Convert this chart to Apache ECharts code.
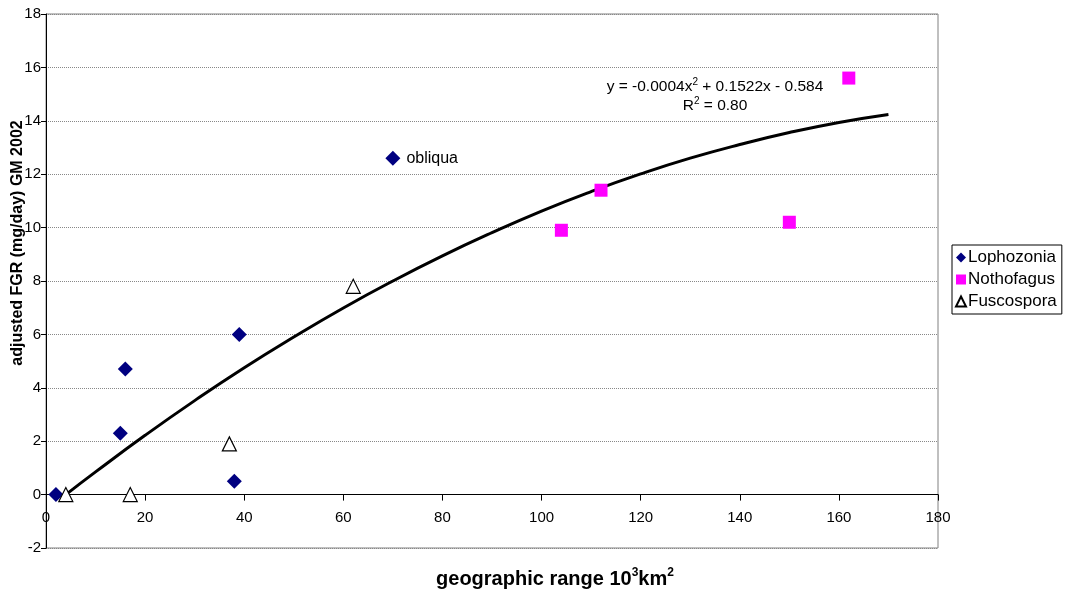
<!DOCTYPE html>
<html>
<head>
<meta charset="utf-8">
<script src="https://cdn.jsdelivr.net/npm/echarts@6/dist/echarts.min.js"></script>
<style>
html,body{margin:0;padding:0;background:#fff;}
#c{width:1074px;height:597px;}
</style>
</head>
<body>
<div id="c"></div>
<script>
// Data
const lophozonia = [[2, 0], [15, 2.3], [16, 4.7], [38, 0.5], [39, 6.0], [70, 12.6]];
const lophozoniaNames = ['', '', '', '', '', 'obliqua'];
const nothofagus = [[104, 9.9], [112, 11.4], [150, 10.2], [162, 15.6]];
const fuscospora = [[4, 0], [17, 0], [37, 1.9], [62, 7.8]];
// Trend curve, points
const trendX = [4, 10, 20, 30, 40, 50, 60, 70, 80, 90, 100, 110, 120, 130, 140, 150, 160, 170];
const trendY = [0.00, 0.85, 2.22, 3.52, 4.75, 5.90, 6.99, 8.00, 8.94, 9.81, 10.62, 11.35, 12.01, 12.60, 13.11, 13.56, 13.94, 14.24];
const xTicks = [0, 180, 20];
const yTicks = [-2, 18, 2];

const FONT = 'Liberation Sans, Arial, sans-serif';
const chart = echarts.init(document.getElementById('c'));

const lophoData = lophozonia.map((p, i) => ({
  value: p,
  label: lophozoniaNames[i] ? {show: true, formatter: lophozoniaNames[i], position: 'right', distance: 6,
    color: '#000', fontFamily: FONT, fontSize: 16} : {show: false}
}));

// pixel height of one y unit so the x axis can sit on y = 0
const gridTop = 14, gridBottom = 49, H = 597;
const unitPx = (H - gridTop - gridBottom) / (yTicks[1] - yTicks[0]);
const zeroOffset = -(0 - yTicks[0]) * unitPx;

chart.setOption({
  animation: false,
  textStyle: {fontFamily: FONT, color: '#000'},
  grid: {left: 46, right: 136, top: gridTop, bottom: gridBottom, show: true, borderColor: '#808080', borderWidth: 1},
  xAxis: {
    type: 'value', min: xTicks[0], max: xTicks[1], interval: xTicks[2],
    offset: zeroOffset,
    axisLine: {show: true, onZero: false, lineStyle: {color: '#000', width: 1}},
    axisTick: {show: true, inside: false, length: 6, lineStyle: {color: '#000'}},
    axisLabel: {color: '#000', fontSize: 15, fontFamily: FONT, margin: 16},
    splitLine: {show: false}
  },
  yAxis: {
    type: 'value', min: yTicks[0], max: yTicks[1], interval: yTicks[2],
    axisLine: {show: true, onZero: false, lineStyle: {color: '#000', width: 1}},
    axisTick: {show: true, length: 5, lineStyle: {color: '#000'}},
    axisLabel: {color: '#000', fontSize: 15, fontFamily: FONT, margin: 5},
    splitLine: {show: true, lineStyle: {color: '#888', type: 'dotted', width: 1}}
  },
  legend: {
    orient: 'vertical', left: 952, top: 245,
    data: ['Lophozonia', 'Nothofagus', 'Fuscospora'],
    itemWidth: 10, itemHeight: 10, itemGap: 5,
    padding: [4, 5, 4, 3],
    borderColor: '#000', borderWidth: 1,
    textStyle: {fontSize: 17, fontFamily: FONT, color: '#000', padding: [0, 0, 0, -3]}
  },
  graphic: [
    {
      type: 'text', x: 18, y: 243, rotation: Math.PI / 2,
      style: {text: 'adjusted FGR (mg/day) GM 2002', fontFamily: FONT, fontSize: 16, fontWeight: 'bold',
        fill: '#000', align: 'center', verticalAlign: 'middle'}
    },
    {
      type: 'text', x: 555, y: 578,
      style: {
        text: '{b|geographic range 10}{s|3}{b|km}{s|2}',
        align: 'center', verticalAlign: 'middle',
        rich: {
          b: {fontFamily: FONT, fontSize: 20, fontWeight: 'bold', fill: '#000', verticalAlign: 'bottom'},
          s: {fontFamily: FONT, fontSize: 12, fontWeight: 'bold', fill: '#000', verticalAlign: 'top', padding: [0, 0, 10, 0]}
        }
      }
    },
    {
      type: 'text', x: 715, y: 87,
      style: {
        text: '{n|y = -0.0004x}{s|2}{n| + 0.1522x - 0.584}',
        align: 'center', verticalAlign: 'middle',
        rich: {
          n: {fontFamily: FONT, fontSize: 15.5, fill: '#000'},
          s: {fontFamily: FONT, fontSize: 10, fill: '#000', padding: [0, 0, 10, 0]}
        }
      }
    },
    {
      type: 'text', x: 715, y: 106,
      style: {
        text: '{n|R}{s|2}{n| = 0.80}',
        align: 'center', verticalAlign: 'middle',
        rich: {
          n: {fontFamily: FONT, fontSize: 15.5, fill: '#000'},
          s: {fontFamily: FONT, fontSize: 10, fill: '#000', padding: [0, 0, 10, 0]}
        }
      }
    }
  ],
  series: [
    {
      name: 'trend', type: 'line', data: trendX.map((x, i) => [x, trendY[i]]),
      smooth: true, showSymbol: false, symbol: 'none', silent: true, z: 3,
      lineStyle: {color: '#000', width: 3}
    },
    {
      name: 'Lophozonia', type: 'scatter', data: lophoData, symbol: 'diamond', symbolSize: 15, z: 4,
      itemStyle: {color: '#000080', opacity: 1}
    },
    {
      name: 'Nothofagus', type: 'scatter', data: nothofagus, symbol: 'rect', symbolSize: 13, z: 4,
      itemStyle: {color: '#FF00FF', opacity: 1}
    },
    {
      name: 'Fuscospora', type: 'scatter', data: fuscospora, symbol: 'triangle', symbolSize: 14, z: 4,
      itemStyle: {color: '#fff', borderColor: '#000', borderWidth: 1.2, opacity: 1}
    }
  ]
});
</script>
</body>
</html>
